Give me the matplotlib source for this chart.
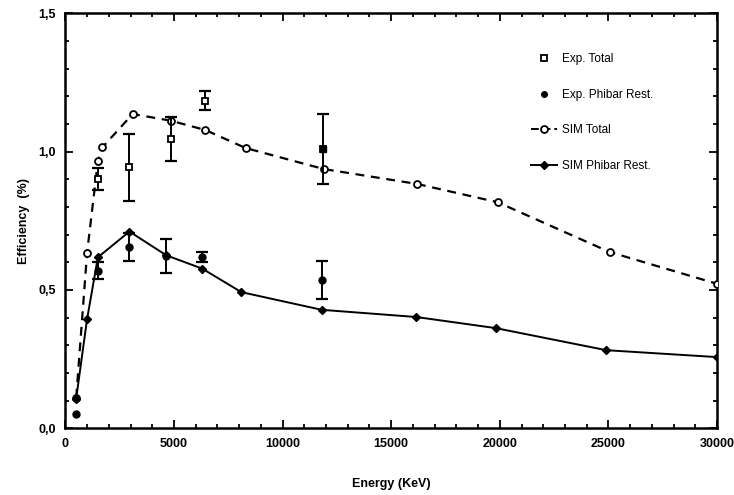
import matplotlib
matplotlib.use("Agg")
import matplotlib.pyplot as plt
from matplotlib.lines import Line2D
from matplotlib.ticker import MultipleLocator

# simulated efficiencies
sim_total_e = [500, 1000, 1500, 1700, 3100, 4850, 6450, 8300, 11900, 16200, 19900, 25050, 30000]
sim_total = [0.11, 0.633, 0.967, 1.015, 1.136, 1.112, 1.078, 1.013, 0.937, 0.883, 0.817, 0.637, 0.522]

sim_phibar_e = [500, 1000, 1500, 2950, 4650, 6300, 8100, 11800, 16150, 19800, 24900, 30000]
sim_phibar = [0.107, 0.394, 0.618, 0.711, 0.625, 0.577, 0.492, 0.428, 0.402, 0.362, 0.282, 0.257]

# measured efficiencies with errors (0 = no error bar drawn)
exp_total_e = [1500, 2950, 4850, 6450, 11850]
exp_total = [0.90, 0.943, 1.046, 1.184, 1.010]
exp_total_err = [0.04, 0.122, 0.08, 0.035, 0.127]

exp_phibar_e = [500, 1500, 2950, 4650, 6300, 11800]
exp_phibar = [0.053, 0.57, 0.655, 0.623, 0.618, 0.537]
exp_phibar_err = [0.0, 0.03, 0.05, 0.062, 0.018, 0.069]

y_ticks = [0.0, 0.5, 1.0, 1.5]
y_tick_labels = ["0,0", "0,5", "1,0", "1,5"]
x_ticks = [0, 5000, 10000, 15000, 20000, 25000, 30000]

plt.rcParams["font.family"] = ["Liberation Sans", "DejaVu Sans"]

fig = plt.figure(figsize=(7.34, 4.95), dpi=100)
ax = fig.add_axes([0.089, 0.135, 0.888, 0.838])


def with_err(xs, ys, errs):
    keep = [i for i, e in enumerate(errs) if e > 0]
    return [xs[i] for i in keep], [ys[i] for i in keep], [errs[i] for i in keep]


ax.plot(sim_total_e, sim_total, ls=(0, (4, 3)), lw=1.6, color="black",
        marker="o", ms=5, mfc="white", mec="black", mew=1.3, zorder=3)
ax.plot(sim_phibar_e, sim_phibar, ls="-", lw=1.4, color="black",
        marker="D", ms=4.5, mfc="black", mec="black", zorder=3)

ex, ey, ee = with_err(exp_total_e, exp_total, exp_total_err)
ax.errorbar(ex, ey, yerr=ee, fmt="none", ecolor="black", elinewidth=1.4,
            capsize=4, capthick=1.6, zorder=4)
ax.plot(exp_total_e, exp_total, ls="none", marker="s", ms=5, mfc="white",
        mec="black", mew=1.3, zorder=5)
ax.plot([exp_total_e[-1]], [exp_total[-1]], ls="none", marker="s", ms=5,
        mfc="black", mec="black", zorder=6)

ex, ey, ee = with_err(exp_phibar_e, exp_phibar, exp_phibar_err)
ax.errorbar(ex, ey, yerr=ee, fmt="none", ecolor="black", elinewidth=1.4,
            capsize=4, capthick=1.6, zorder=4)
ax.plot(exp_phibar_e, exp_phibar, ls="none", marker="o", ms=5, mfc="black",
        mec="black", zorder=5)

ax.set_xlim(0, 30000)
ax.set_ylim(0, 1.5)
ax.set_xticks(x_ticks)
ax.set_xticklabels([str(v) for v in x_ticks])
ax.set_yticks(y_ticks)
ax.set_yticklabels(y_tick_labels)
ax.xaxis.set_minor_locator(MultipleLocator(1000))
ax.yaxis.set_minor_locator(MultipleLocator(0.1))
ax.tick_params(which="both", direction="in", top=True, right=True, width=1.3)
ax.tick_params(which="major", length=6, labelsize=9, pad=7)
ax.tick_params(which="minor", length=3)
for lbl in ax.get_xticklabels() + ax.get_yticklabels():
    lbl.set_fontweight("bold")
for sp in ax.spines.values():
    sp.set_linewidth(1.8)

ax.set_xlabel("Energy (KeV)", fontsize=9, fontweight="bold", labelpad=20)
ax.set_ylabel("Efficiency  (%)", fontsize=9, fontweight="bold", labelpad=6)

handles = [
    Line2D([], [], ls="none", marker="s", ms=5, mfc="white", mec="black", mew=1.3),
    Line2D([], [], ls="none", marker="o", ms=4, mfc="black", mec="black"),
    Line2D([], [], ls=(0, (4, 2)), lw=1.4, color="black", marker="o", ms=5,
           mfc="white", mec="black", mew=1.3),
    Line2D([], [], ls="-", lw=1.4, color="black", marker="D", ms=4.5,
           mfc="black", mec="black"),
]
labels = ["Exp. Total", "Exp. Phibar Rest.", "SIM Total", "SIM Phibar Rest."]
ax.legend(handles, labels, loc="upper left", bbox_to_anchor=(0.698, 0.93),
          frameon=False, fontsize=8.5, labelspacing=2.0, handlelength=2.2,
          handletextpad=0.4, markerfirst=True)

fig.savefig("out.png", dpi=100)
